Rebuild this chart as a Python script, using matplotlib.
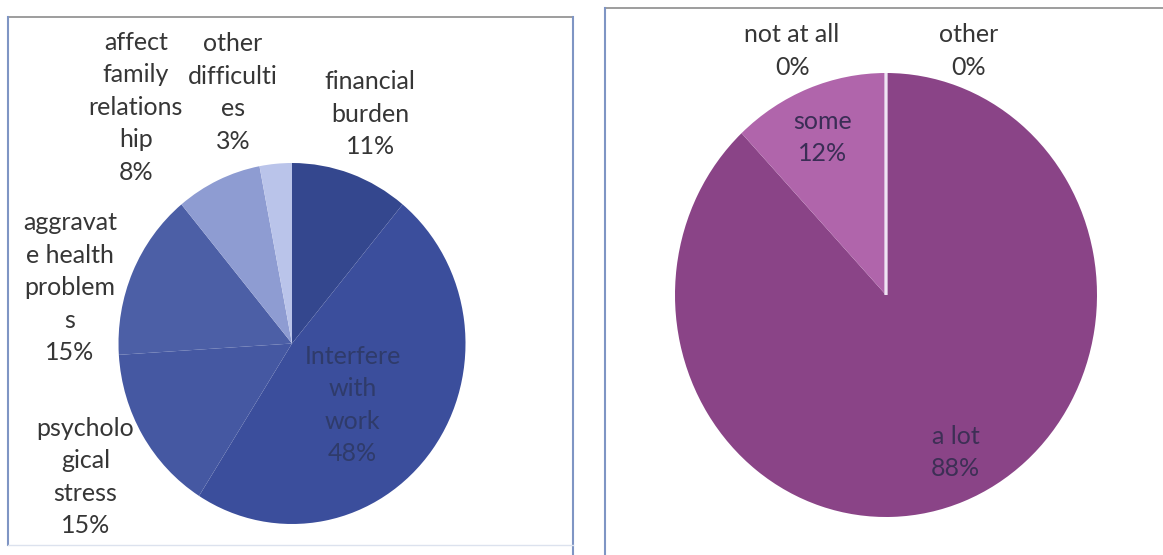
import matplotlib.pyplot as plt
from matplotlib.lines import Line2D

plt.rcParams["font.family"] = ["Lato", "DejaVu Sans"]

# impact of caring, by kind of difficulty
impact_labels = ["financial\nburden", "Interfere\nwith\nwork", "psycholo\ngical\nstress",
                 "aggravat\ne health\nproblem\ns", "affect\nfamily\nrelations\nhip",
                 "other\ndifficulti\nes"]
impact_values = [11, 48, 15, 15, 8, 3]
impact_colors = ["#34478E", "#3B4E9C", "#4558A2", "#4C5FA6", "#8E9CD2", "#BAC4EA"]

# how much it affects daily life
extent_labels = ["a lot", "some", "not at all", "other"]
extent_values = [88, 12, 0, 0]
extent_colors = ["#8A4487", "#B065AB", "#EFE4F4", "#EFE4F4"]

W, H = 1163, 555
fig = plt.figure(figsize=(W / 100, H / 100), dpi=100)

# panel frames, drawn in pixel space
frame = fig.add_axes([0, 0, 1, 1])
frame.set_xlim(0, W)
frame.set_ylim(H, 0)
frame.axis("off")
frame.add_line(Line2D([8, 573], [17, 17], color="#8C8C8C", lw=1.2))
frame.add_line(Line2D([8, 8], [17, 545], color="#7F95C4", lw=1.5))
frame.add_line(Line2D([573, 573], [17, 555], color="#7F95C4", lw=1.5))
frame.add_line(Line2D([8, 573], [545, 545], color="#DCE2EE", lw=1.0))
frame.add_line(Line2D([605, W], [8, 8], color="#8C8C8C", lw=1.2))
frame.add_line(Line2D([605, 605], [8, 555], color="#7F95C4", lw=1.5))


def pie_axes(cx, cy, rx, ry):
    ax = fig.add_axes([(cx - rx) / W, 1 - (cy + ry) / H, 2 * rx / W, 2 * ry / H])
    return ax


def draw_pie(ax, values, colors):
    wedges, _ = ax.pie(values, colors=colors, startangle=90, counterclock=False,
                       radius=1.0, wedgeprops=dict(linewidth=0))
    for w, v in zip(wedges, values):
        if v == 0:
            w.set_edgecolor(w.get_facecolor())
            w.set_linewidth(2.0)
    ax.set_aspect("auto")
    ax.set_xlim(-1, 1)
    ax.set_ylim(-1, 1)
    ax.axis("off")


TXT = dict(ha="center", va="center", fontsize=18, linespacing=1.5, clip_on=False)

ax1 = pie_axes(292, 343.5, 173.5, 180.5)
draw_pie(ax1, impact_values, impact_colors)

impact_pos = [(0.45, 1.27), (0.35, -0.34), (-1.19, -0.74), (-1.28, 0.31),
              (-0.90, 1.31), (-0.34, 1.39)]
impact_text = ["#363636", "#2F3B6A", "#363636", "#363636", "#363636", "#363636"]
for lab, val, (x, y), c in zip(impact_labels, impact_values, impact_pos, impact_text):
    ax1.text(x, y, f"{lab}\n{val}%", color=c, **TXT)

ax2 = pie_axes(886, 295, 211, 222)
draw_pie(ax2, extent_values, extent_colors)

extent_pos = [(0.33, -0.71), (-0.30, 0.71), (-0.445, 1.10), (0.39, 1.10)]
extent_text = ["#3D2F55", "#3A2D55", "#363636", "#363636"]
for lab, val, (x, y), c in zip(extent_labels, extent_values, extent_pos, extent_text):
    ax2.text(x, y, f"{lab}\n{val}%", color=c, **TXT)

fig.savefig("out.png", dpi=100)
